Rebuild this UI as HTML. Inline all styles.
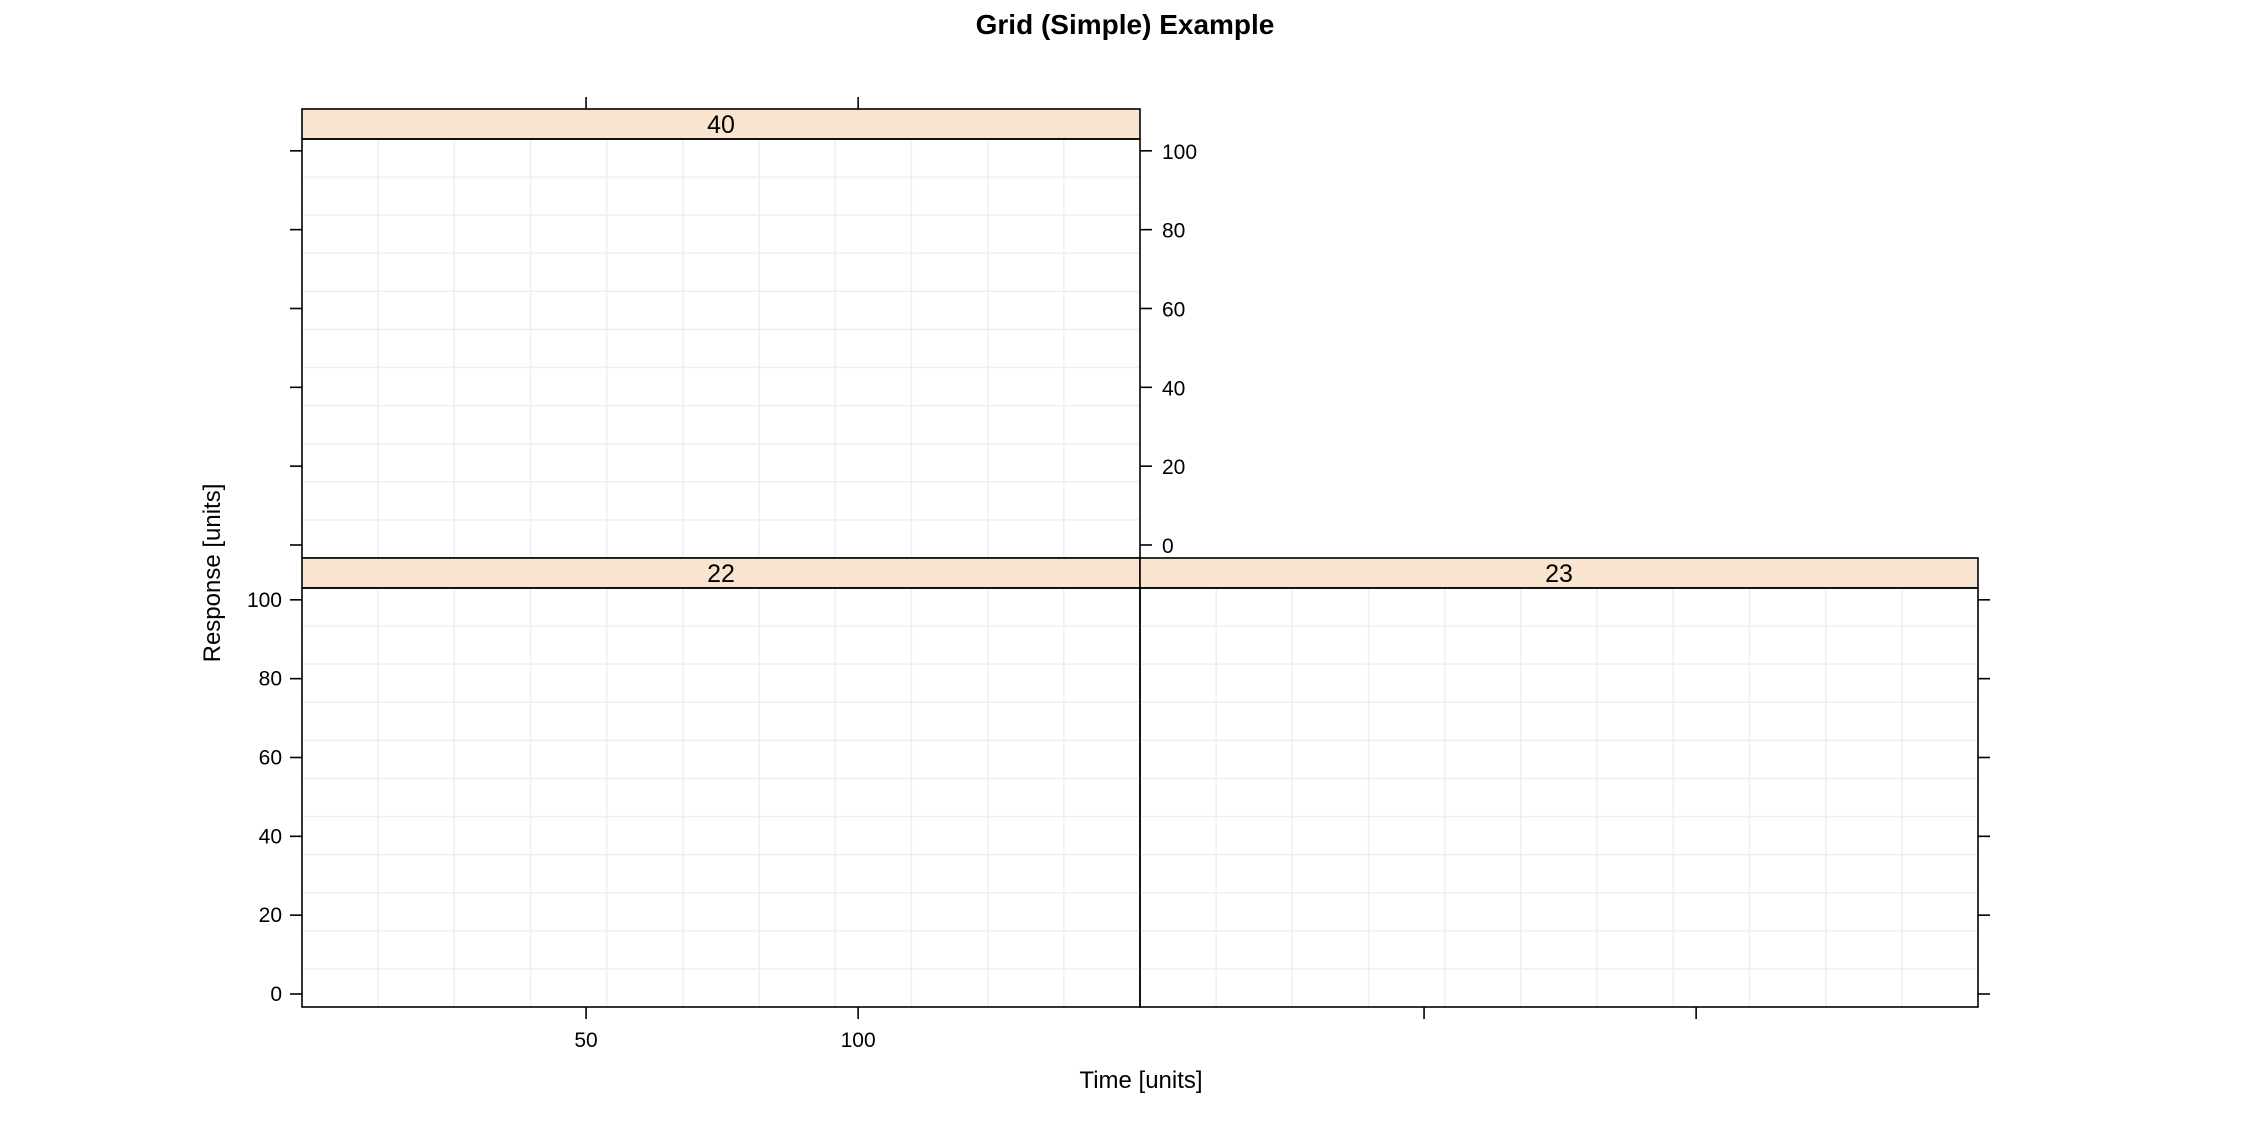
<!DOCTYPE html>
<html><head><meta charset="utf-8"><style>
html,body{margin:0;padding:0;background:#fff}
svg{display:block;font-family:"Liberation Sans",Arial,sans-serif}
</style></head><body>
<svg id="chart" width="2250" height="1125" viewBox="0 0 2250 1125" xmlns="http://www.w3.org/2000/svg">
<text x="1125" y="34" text-anchor="middle" font-size="28" font-weight="bold">Grid (Simple) Example</text>
<text x="1141" y="1088" text-anchor="middle" font-size="24">Time [units]</text>
<text transform="translate(220,573) rotate(-90)" text-anchor="middle" font-size="24">Response [units]</text>
<g id="panels"></g>
</svg>
<script>
const panelLabels = ["40", "22", "23"];
const xTicks = [50, 100];
const yTicks = [0, 20, 40, 60, 80, 100];
const xDomain = [-2.2, 151.8];
const yDomain = [-3.3, 103.0];

const NS = "http://www.w3.org/2000/svg";
const g = document.getElementById("panels");
function el(tag, attrs, parent) {
  const e = document.createElementNS(NS, tag);
  for (const k in attrs) e.setAttribute(k, attrs[k]);
  (parent || g).appendChild(e);
  return e;
}
const PW = 838, PH = 419, STRIP = 30;
const layout = [
  {x0: 302, y0: 139, label: panelLabels[0], pos: "top"},
  {x0: 302, y0: 588, label: panelLabels[1], pos: "bl"},
  {x0: 1140, y0: 588, label: panelLabels[2], pos: "br"}
];
function sx(p, v) { return p.x0 + (v - xDomain[0]) / (xDomain[1] - xDomain[0]) * PW; }
function sy(p, v) { return p.y0 + PH - (v - yDomain[0]) / (yDomain[1] - yDomain[0]) * PH; }

layout.forEach((p, i) => {
  const pg = el("g", {});
  
  
  for (let k = 1; k < 11; k++) {
    const gx = p.x0 + k * PW / 11, gy = p.y0 + k * PH / 11;
    const l1 = el("line", {x1: gx, x2: gx, y1: p.y0, y2: p.y0 + PH, stroke: "#efefef", "stroke-width": 1.5}, pg);
    
    
    const l2 = el("line", {x1: p.x0, x2: p.x0 + PW, y1: gy, y2: gy, stroke: "#efefef", "stroke-width": 1.5}, pg);
    
    
  }
  const st = el("rect", {x: p.x0, y: p.y0 - STRIP, width: PW, height: STRIP, fill: "#f9e5cf", stroke: "#000", "stroke-width": 1.6}, pg);
  
  
  const stt = el("text", {x: p.x0 + PW / 2, y: p.y0 - 6, "text-anchor": "middle", "font-size": 25}, pg);
  stt.textContent = p.label;
  
  
  const fr = el("rect", {x: p.x0, y: p.y0, width: PW, height: PH, fill: "none", stroke: "#000", "stroke-width": 1.6}, pg);
  
  
  yTicks.forEach(v => {
    const y = sy(p, v);
    if (p.pos === "top" || p.pos === "bl") {
      const t = el("line", {x1: p.x0 - 12, x2: p.x0, y1: y, y2: y, stroke: "#000", "stroke-width": 1.6}, pg);
      
      
    }
    if (p.pos === "top" || p.pos === "br") {
      const t = el("line", {x1: p.x0 + PW, x2: p.x0 + PW + 12, y1: y, y2: y, stroke: "#000", "stroke-width": 1.6}, pg);
      
      
    }
    if (p.pos === "bl") {
      const tx = el("text", {x: p.x0 - 20, y: y + 7, "text-anchor": "end", "font-size": 21}, pg);
      tx.textContent = v;
      
      
    }
    if (p.pos === "top") {
      const tx = el("text", {x: p.x0 + PW + 22, y: y + 8, "text-anchor": "start", "font-size": 21}, pg);
      tx.textContent = v;
      
      
    }
  });
  xTicks.forEach(v => {
    const x = sx(p, v);
    if (p.pos === "top") {
      const t = el("line", {x1: x, x2: x, y1: p.y0 - STRIP - 12, y2: p.y0 - STRIP, stroke: "#000", "stroke-width": 1.6}, pg);
      
      
    } else {
      const t = el("line", {x1: x, x2: x, y1: p.y0 + PH, y2: p.y0 + PH + 12, stroke: "#000", "stroke-width": 1.6}, pg);
      
      
      if (p.pos === "bl") {
        const tx = el("text", {x: x, y: p.y0 + PH + 40, "text-anchor": "middle", "font-size": 21}, pg);
        tx.textContent = v;
        
        
      }
    }
  });
});
</script>
</body></html>
